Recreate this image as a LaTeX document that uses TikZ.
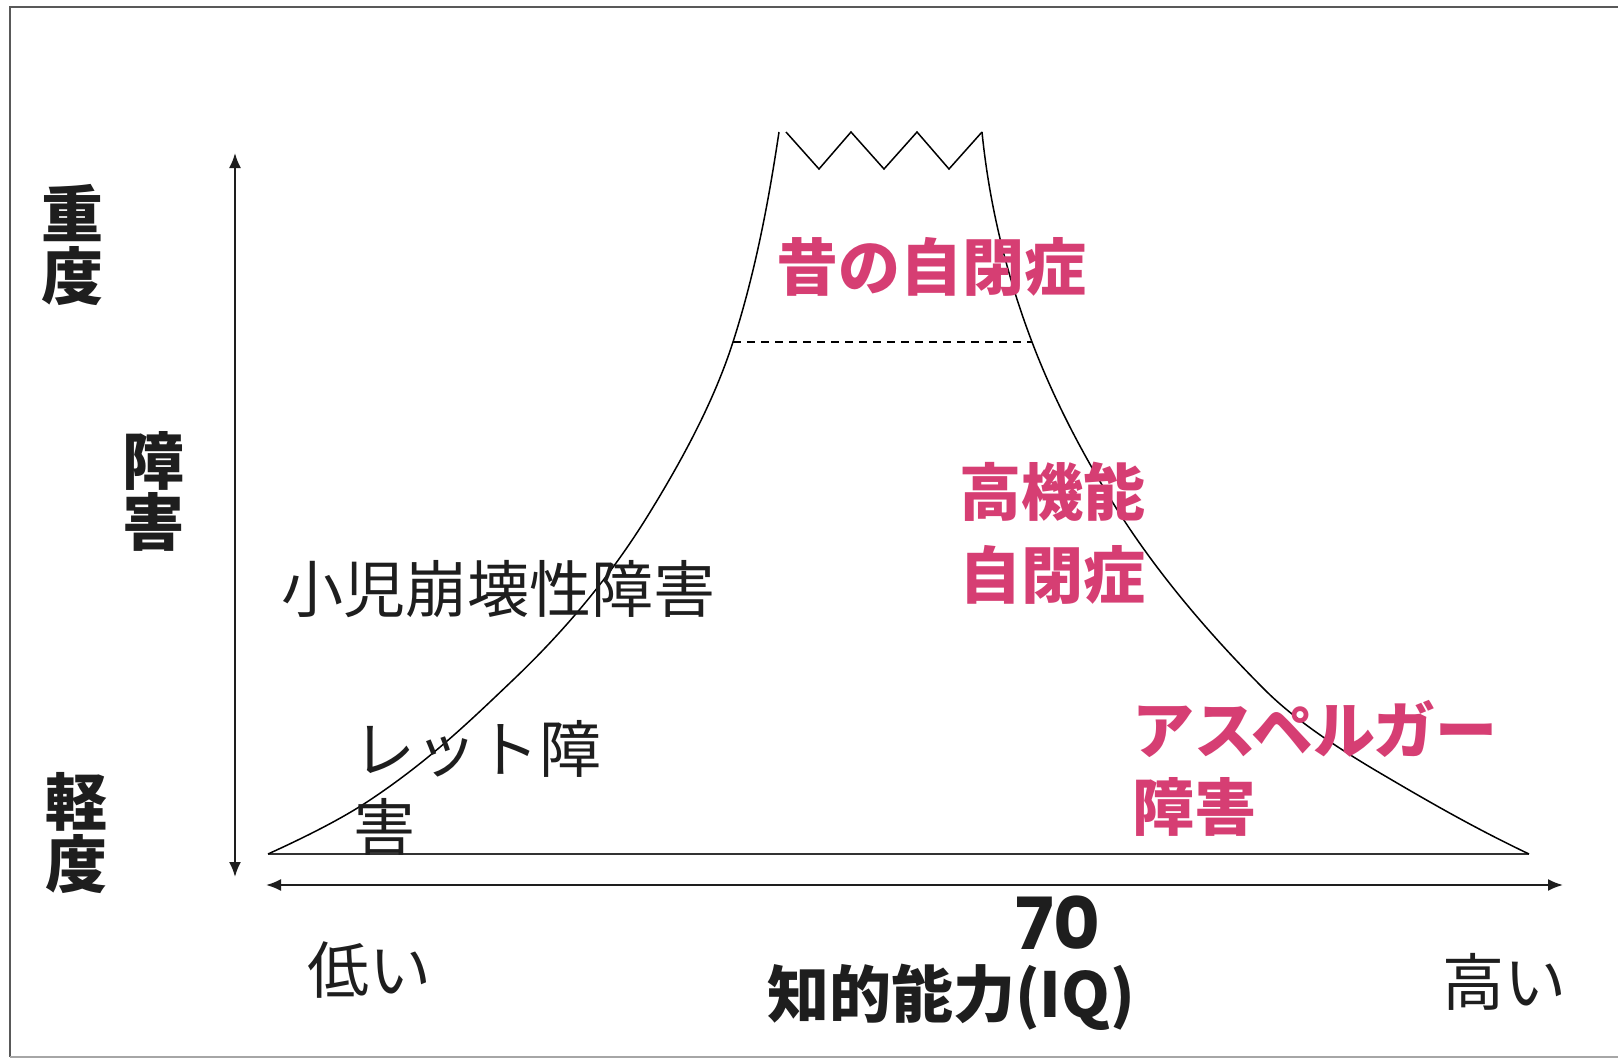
\documentclass[tikz,border=0pt]{standalone}
\usepackage{fontspec}
\newfontfamily\jp{Noto Sans CJK JP}
\newfontfamily\pop{Poppins}
\usetikzlibrary{arrows.meta}
\definecolor{pinkc}{HTML}{D63E73}
\definecolor{inkc}{HTML}{1E1E1E}
\begin{document}
\begin{tikzpicture}[x=0.5pt,y=-0.5pt,
  lbl/.style={inner sep=0pt, outer sep=0pt, anchor=north west, align=left, text=inkc},
  reg/.style={lbl, font=\jp\fontsize{31}{39}\selectfont},
  bld/.style={lbl, font=\jp\bfseries\fontsize{31}{31}\selectfont},
  pk/.style={lbl, text=pinkc, font=\jp\bfseries\fontsize{31}{41.5}\selectfont},
  mline/.style={line width=0.75pt, black},
  arr/.style={line width=1pt, draw=inkc, {Latex[length=7.5pt,width=6pt]}-{Latex[length=7.5pt,width=6pt]}},
  frame/.style={line width=1.1pt, draw=gray!70!black}
]
\fill[white] (0,0) rectangle (1618,1060);
\useasboundingbox (0,0) rectangle (1618,1060);
% frame
\draw[frame] (1618,7) -- (10,7) -- (10,1057);
\draw[frame, draw=gray!70] (10,1057) -- (1618,1057);

% axes
\coordinate (vtop) at (235,153);
\coordinate (vbot) at (235,877);
\coordinate (hl) at (266,885);
\coordinate (hr) at (1563,885);
\draw[arr] (vbot) -- (vtop);
\draw[arr] (hl) -- (hr);

% mountain
\coordinate (footL) at (268,854);
\coordinate (footR) at (1529,854);
\coordinate (topL) at (779,132);
\coordinate (topR) at (982,132);
\draw[line width=0.9pt, draw=gray!40!black] (footL) -- (footR);
\draw[mline] (topL)
  .. controls (768.5,202) and (755.4,272) .. (733,342)
  .. controls (714.3,400.3) and (683.1,458.7) .. (647,517)
  .. controls (613.3,571.3) and (570,625.7) .. (513,680)
  .. controls (471,720) and (430,760) .. (370,800)
  .. controls (343,818) and (307.6,836) .. (footL);
\draw[mline, line join=miter] (786,132) -- (819,169) -- (851,132) -- (884,169) -- (917,132) -- (949,169) -- (topR);
\draw[mline] (topR)
  .. controls (989,202) and (1005.4,272) .. (1032,342)
  .. controls (1052.4,395.7) and (1079.7,449.3) .. (1113,503)
  .. controls (1151.6,565.3) and (1202.7,627.7) .. (1265,690)
  .. controls (1292.7,717.7) and (1332.9,745.3) .. (1380,773)
  .. controls (1425.9,800) and (1472.3,827) .. (footR);
\coordinate (dl) at (733,342);
\coordinate (dr) at (1032,342);
\draw[line width=0.6pt, dash pattern=on 4pt off 3pt] (dl) -- (dr);

% left labels
\node[bld] (juudo) at (41,184) {重\\度};
\node[bld, font=\jp\bfseries\fontsize{31}{30.5}\selectfont] (shougai) at (122,431) {障\\害};
\node[bld] (keido) at (46,772) {軽\\度};

% black labels
\node[reg] (shouni) at (281,560) {小児崩壊性障害};
\node[reg] (rett) at (353,720) {レット障\\害};
\node[reg] (hikui) at (307,942) {低い};
\node[reg] (takai) at (1442,953) {高い};
\node[lbl, font=\pop\bfseries\fontsize{36}{36}\selectfont] (seventy) at (1015,896) {70};
\node[bld] (iq) at (767,964) {知的能力(IQ)};

% pink labels
\node[pk] (mukashi) at (776,237) {昔の自閉症};
\node[pk] (koukinou) at (959,462) {高機能\\自閉症};
\node[pk, font=\jp\bfseries\fontsize{31}{38.5}\selectfont] (asperger) at (1132,700) {アスペルガー\\障害};
\end{tikzpicture}
\end{document}
